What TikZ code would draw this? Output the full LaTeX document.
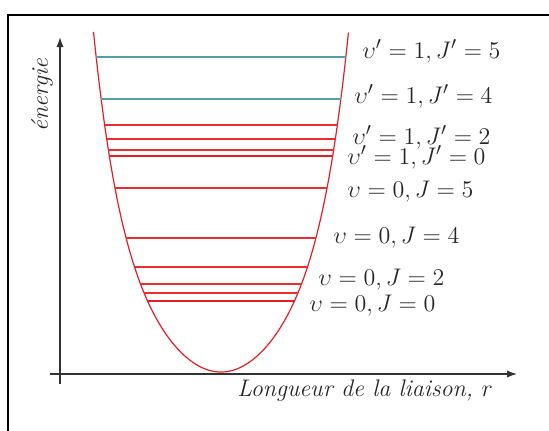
\documentclass[tikz,border=0pt]{standalone}
\usetikzlibrary{arrows.meta}
\definecolor{curvered}{RGB}{228,30,36}
\definecolor{levelred}{RGB}{235,45,50}
\definecolor{levelteal}{RGB}{84,160,165}
\definecolor{axisgray}{RGB}{50,50,50}
\begin{document}
\begin{tikzpicture}[x=0.5pt,y=-0.5pt,
  frameline/.style={line width=1pt,black},
  axisline/.style={line width=0.6pt,axisgray,-{Latex[length=5pt,width=3.6pt]}},
  potential/.style={line width=0.6pt,curvered},
  lvl/.style={line width=0.6pt,levelred},
  lvlthick/.style={line width=1.05pt,curvered},
  lvlteal/.style={line width=0.75pt,levelteal},
  lab/.style={anchor=west,inner sep=0pt,font=\fontsize{12.6}{14}\selectfont,text=black!85},
  axlab/.style={inner sep=0pt,font=\fontsize{12}{14}\selectfont\itshape,text=black!85}]
\useasboundingbox (0,0) rectangle (549,430);
\clip (0,0) rectangle (549,430);
% frame
\coordinate (fa) at (560,14.5);
\coordinate (fb) at (8,14.5);
\coordinate (fc) at (8,440);
\draw[frameline] (fa) -- (fb) -- (fc);
% axes
\coordinate (yb) at (60,384);
\coordinate (yt) at (60,37);
\coordinate (xl) at (50,374);
\coordinate (xr) at (517,374);
\draw[axisline] (yb) -- (yt);
\draw[axisline] (xl) -- (xr);
\node[axlab,rotate=90] (elab) at (42,95) {énergie};
\node[axlab] (xlab) at (365,391) {Longueur de la liaison, $r$};
% potential curve
\draw[potential] plot[domain=-1.275:1.275,samples=120,smooth,variable=\u]
  ({221+100*\u},{372-(122*\u*\u+33*\u*\u*\u*\u*\u*\u)});
% levels
\foreach \yy/\hw/\st in {57/125/lvlteal,99/120/lvlteal,125/116.5/lvl,139/114.5/lvl,150/112.8/lvl,156/111.8/lvlthick,188/106.3/lvl,238/95.2/lvl,267/86.5/lvl,284/80.5/lvl,293/77/lvl,301/73.5/lvlthick}{
  \coordinate (L\yy) at ({221-\hw},\yy);
  \coordinate (R\yy) at ({221+\hw},\yy);
  \draw[\st] (L\yy) -- (R\yy);
}
% labels
\node[lab] (t1) at (362,51) {$\upsilon' = 1, J' = 5$};
\node[lab] (t2) at (354,96) {$\upsilon' = 1, J' = 4$};
\node[lab] (t3) at (352,137) {$\upsilon' = 1, J' = 2$};
\node[lab] (t4) at (347,157.5) {$\upsilon' = 1, J' = 0$};
\node[lab] (t5) at (347,192) {$\upsilon = 0, J = 5$};
\node[lab] (t6) at (333,238) {$\upsilon = 0, J = 4$};
\node[lab] (t7) at (318,280) {$\upsilon = 0, J = 2$};
\node[lab] (t8) at (309,306) {$\upsilon = 0, J = 0$};
\end{tikzpicture}
\end{document}
